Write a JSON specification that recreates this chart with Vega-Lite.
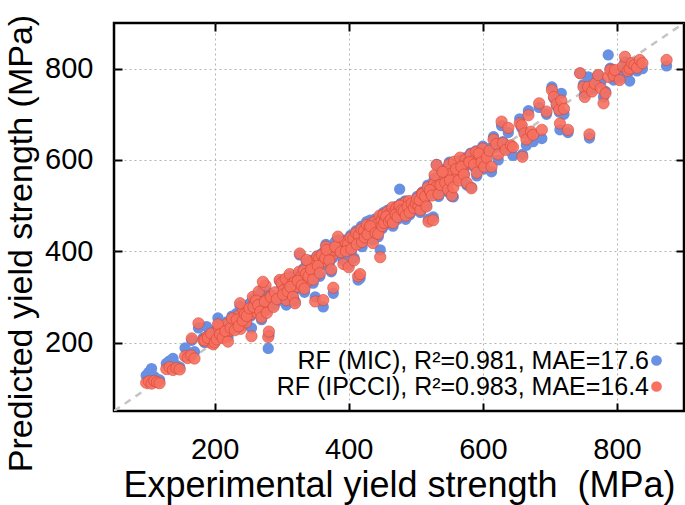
{
  "$schema": "https://vega.github.io/schema/vega-lite/v6.json",
  "width": 570,
  "height": 388,
  "autosize": "none",
  "padding": {"left": 114, "top": 23, "right": 1, "bottom": 94},
  "background": "white",
  "config": {
    "font": "Liberation Sans",
    "view": {"stroke": "#000", "strokeWidth": 2.5}
  },
  "datasets": {
    "diag": [{"exp": 50, "pred": 50}, {"exp": 900, "pred": 900}],
    "pts": [
      {"exp":98,"mic":128,"ipcci":112},{"exp":102,"mic":135,"ipcci":115},{"exp":106,"mic":143,"ipcci":110},{"exp":110,"mic":125,"ipcci":116},{"exp":114,"mic":120,"ipcci":113},{"exp":118,"mic":118,"ipcci":111},
      {"exp":128,"mic":154,"ipcci":142},{"exp":133,"mic":160,"ipcci":146},{"exp":138,"mic":165,"ipcci":140},{"exp":143,"mic":150,"ipcci":144},{"exp":148,"mic":146,"ipcci":141},
      {"exp":156,"mic":188,"ipcci":170},{"exp":160,"mic":176,"ipcci":166},{"exp":165,"mic":172,"ipcci":172},{"exp":170,"mic":180,"ipcci":165},{"exp":166,"mic":205,"ipcci":209},
      {"exp":176,"mic":232,"ipcci":242},{"exp":183,"mic":210,"ipcci":205},{"exp":188,"mic":235,"ipcci":212},{"exp":193,"mic":222,"ipcci":200},{"exp":198,"mic":210,"ipcci":196},
      {"exp":185,"mic":200,"ipcci":205},{"exp":190,"mic":215,"ipcci":210},{"exp":195,"mic":225,"ipcci":220},{"exp":200,"mic":205,"ipcci":200},{"exp":206,"mic":238,"ipcci":232},{"exp":210,"mic":225,"ipcci":222},
      {"exp":214,"mic":215,"ipcci":212},{"exp":218,"mic":245,"ipcci":240},{"exp":222,"mic":230,"ipcci":226},{"exp":228,"mic":240,"ipcci":236},{"exp":231,"mic":250,"ipcci":246},{"exp":235,"mic":262,"ipcci":258},
      {"exp":239,"mic":235,"ipcci":230},{"exp":243,"mic":268,"ipcci":272},{"exp":247,"mic":248,"ipcci":244},{"exp":250,"mic":275,"ipcci":270},{"exp":254,"mic":258,"ipcci":262},{"exp":257,"mic":295,"ipcci":300},
      {"exp":260,"mic":280,"ipcci":288},{"exp":263,"mic":270,"ipcci":266},{"exp":266,"mic":305,"ipcci":312},{"exp":269,"mic":290,"ipcci":286},{"exp":273,"mic":280,"ipcci":276},{"exp":276,"mic":315,"ipcci":325},
      {"exp":279,"mic":300,"ipcci":296},{"exp":283,"mic":290,"ipcci":300},
      {"exp":203,"mic":215,"ipcci":207},{"exp":205,"mic":254,"ipcci":240},{"exp":208,"mic":228,"ipcci":218},{"exp":212,"mic":220,"ipcci":210},{"exp":216,"mic":236,"ipcci":225},{"exp":220,"mic":212,"ipcci":202},
      {"exp":224,"mic":245,"ipcci":232},{"exp":226,"mic":258,"ipcci":253},{"exp":230,"mic":232,"ipcci":227},{"exp":233,"mic":264,"ipcci":250},{"exp":238,"mic":280,"ipcci":286},{"exp":236,"mic":240,"ipcci":236},
      {"exp":242,"mic":255,"ipcci":248},{"exp":245,"mic":270,"ipcci":262},{"exp":248,"mic":262,"ipcci":258},{"exp":252,"mic":285,"ipcci":275},{"exp":255,"mic":232,"ipcci":214},{"exp":258,"mic":268,"ipcci":278},
      {"exp":262,"mic":300,"ipcci":292},{"exp":265,"mic":285,"ipcci":282},{"exp":268,"mic":262,"ipcci":268},{"exp":270,"mic":250,"ipcci":255},{"exp":272,"mic":318,"ipcci":333},{"exp":275,"mic":295,"ipcci":290},
      {"exp":278,"mic":272,"ipcci":265},{"exp":280,"mic":187,"ipcci":212},{"exp":281,"mic":216,"ipcci":224},{"exp":284,"mic":305,"ipcci":300},{"exp":288,"mic":282,"ipcci":278},{"exp":290,"mic":300,"ipcci":310},
      {"exp":293,"mic":290,"ipcci":295},{"exp":297,"mic":335,"ipcci":337},{"exp":300,"mic":325,"ipcci":330},{"exp":303,"mic":310,"ipcci":315},{"exp":307,"mic":282,"ipcci":293},{"exp":310,"mic":340,"ipcci":330},
      {"exp":302,"mic":300,"ipcci":305},{"exp":306,"mic":335,"ipcci":340},{"exp":309,"mic":318,"ipcci":312},{"exp":312,"mic":345,"ipcci":350},{"exp":316,"mic":325,"ipcci":330},{"exp":319,"mic":338,"ipcci":332},
      {"exp":323,"mic":318,"ipcci":322},{"exp":326,"mic":350,"ipcci":355},{"exp":329,"mic":340,"ipcci":345},{"exp":333,"mic":362,"ipcci":358},{"exp":336,"mic":345,"ipcci":350},{"exp":339,"mic":330,"ipcci":335},
      {"exp":343,"mic":380,"ipcci":375},{"exp":346,"mic":360,"ipcci":365},{"exp":349,"mic":372,"ipcci":378},{"exp":353,"mic":390,"ipcci":388},{"exp":356,"mic":380,"ipcci":385},{"exp":360,"mic":395,"ipcci":392},
      {"exp":363,"mic":370,"ipcci":378},{"exp":366,"mic":415,"ipcci":410},{"exp":370,"mic":390,"ipcci":398},{"exp":373,"mic":405,"ipcci":400},{"exp":376,"mic":385,"ipcci":392},{"exp":379,"mic":395,"ipcci":402},
      {"exp":383,"mic":410,"ipcci":405},{"exp":387,"mic":418,"ipcci":415},{"exp":391,"mic":400,"ipcci":408},{"exp":395,"mic":425,"ipcci":420},{"exp":399,"mic":410,"ipcci":415},{"exp":403,"mic":435,"ipcci":430},
      {"exp":407,"mic":420,"ipcci":428},{"exp":411,"mic":445,"ipcci":440},{"exp":415,"mic":430,"ipcci":435},{"exp":419,"mic":455,"ipcci":448},{"exp":423,"mic":440,"ipcci":445},{"exp":427,"mic":465,"ipcci":458},
      {"exp":431,"mic":445,"ipcci":450},{"exp":435,"mic":458,"ipcci":462},{"exp":439,"mic":470,"ipcci":465},{"exp":443,"mic":455,"ipcci":460},{"exp":446,"mic":475,"ipcci":478},{"exp":449,"mic":462,"ipcci":468},
      {"exp":452,"mic":485,"ipcci":480},{"exp":455,"mic":470,"ipcci":472},{"exp":458,"mic":490,"ipcci":486},{"exp":461,"mic":478,"ipcci":482},{"exp":465,"mic":492,"ipcci":496},{"exp":468,"mic":482,"ipcci":486},
      {"exp":471,"mic":498,"ipcci":494},{"exp":475,"mic":488,"ipcci":492},{"exp":478,"mic":505,"ipcci":500},{"exp":481,"mic":478,"ipcci":485},{"exp":484,"mic":510,"ipcci":506},{"exp":487,"mic":492,"ipcci":498},
      {"exp":490,"mic":505,"ipcci":510},
      {"exp":313,"mic":318,"ipcci":322},{"exp":317,"mic":300,"ipcci":300},{"exp":320,"mic":290,"ipcci":286},{"exp":324,"mic":345,"ipcci":335},{"exp":327,"mic":392,"ipcci":395},{"exp":330,"mic":330,"ipcci":325},
      {"exp":334,"mic":310,"ipcci":318},{"exp":337,"mic":375,"ipcci":381},{"exp":340,"mic":355,"ipcci":345},{"exp":344,"mic":365,"ipcci":360},{"exp":347,"mic":330,"ipcci":338},{"exp":350,"mic":300,"ipcci":290},
      {"exp":354,"mic":372,"ipcci":368},{"exp":357,"mic":345,"ipcci":352},{"exp":362,"mic":278,"ipcci":293},{"exp":365,"mic":390,"ipcci":385},{"exp":367,"mic":400,"ipcci":403},{"exp":371,"mic":375,"ipcci":380},
      {"exp":374,"mic":355,"ipcci":360},{"exp":377,"mic":308,"ipcci":320},{"exp":380,"mic":421,"ipcci":410},{"exp":384,"mic":425,"ipcci":432},{"exp":388,"mic":395,"ipcci":398},{"exp":392,"mic":380,"ipcci":372},
      {"exp":396,"mic":405,"ipcci":400},{"exp":400,"mic":370,"ipcci":365},{"exp":404,"mic":395,"ipcci":405},{"exp":408,"mic":385,"ipcci":380},{"exp":412,"mic":420,"ipcci":415},{"exp":414,"mic":337,"ipcci":345},
      {"exp":417,"mic":341,"ipcci":350},{"exp":420,"mic":410,"ipcci":420},{"exp":424,"mic":440,"ipcci":430},{"exp":428,"mic":430,"ipcci":437},{"exp":432,"mic":468,"ipcci":455},{"exp":436,"mic":425,"ipcci":418},
      {"exp":440,"mic":445,"ipcci":440},{"exp":444,"mic":432,"ipcci":438},{"exp":447,"mic":403,"ipcci":387},{"exp":450,"mic":450,"ipcci":455},{"exp":453,"mic":470,"ipcci":462},{"exp":456,"mic":487,"ipcci":476},
      {"exp":460,"mic":460,"ipcci":465},{"exp":463,"mic":478,"ipcci":470},{"exp":466,"mic":455,"ipcci":462},{"exp":470,"mic":490,"ipcci":480},{"exp":473,"mic":470,"ipcci":475},{"exp":476,"mic":536,"ipcci":500},
      {"exp":479,"mic":485,"ipcci":490},{"exp":482,"mic":495,"ipcci":488},{"exp":485,"mic":470,"ipcci":478},{"exp":488,"mic":505,"ipcci":498},{"exp":491,"mic":480,"ipcci":485},{"exp":494,"mic":500,"ipcci":505},
      {"exp":497,"mic":490,"ipcci":495},{"exp":500,"mic":510,"ipcci":505},{"exp":504,"mic":495,"ipcci":500},{"exp":507,"mic":485,"ipcci":490},{"exp":509,"mic":520,"ipcci":527},{"exp":512,"mic":505,"ipcci":510},
      {"exp":502,"mic":520,"ipcci":515},{"exp":506,"mic":505,"ipcci":512},{"exp":510,"mic":530,"ipcci":525},{"exp":514,"mic":515,"ipcci":520},{"exp":518,"mic":545,"ipcci":540},{"exp":522,"mic":525,"ipcci":530},
      {"exp":527,"mic":555,"ipcci":548},{"exp":530,"mic":535,"ipcci":540},{"exp":535,"mic":565,"ipcci":560},{"exp":539,"mic":540,"ipcci":545},{"exp":543,"mic":580,"ipcci":575},{"exp":547,"mic":560,"ipcci":565},
      {"exp":550,"mic":595,"ipcci":590},{"exp":553,"mic":575,"ipcci":570},{"exp":557,"mic":590,"ipcci":596},{"exp":562,"mic":560,"ipcci":565},{"exp":566,"mic":600,"ipcci":605},{"exp":570,"mic":585,"ipcci":580},
      {"exp":574,"mic":605,"ipcci":600},{"exp":578,"mic":590,"ipcci":595},{"exp":582,"mic":615,"ipcci":612},{"exp":586,"mic":600,"ipcci":598},{"exp":590,"mic":620,"ipcci":618},{"exp":596,"mic":612,"ipcci":608},
      {"exp":600,"mic":630,"ipcci":625},{"exp":604,"mic":605,"ipcci":610},
      {"exp":516,"mic":500,"ipcci":498},{"exp":519,"mic":470,"ipcci":465},{"exp":521,"mic":540,"ipcci":534},{"exp":524,"mic":530,"ipcci":522},{"exp":526,"mic":475,"ipcci":468},{"exp":528,"mic":560,"ipcci":567},
      {"exp":531,"mic":590,"ipcci":589},{"exp":534,"mic":520,"ipcci":525},{"exp":537,"mic":550,"ipcci":545},{"exp":540,"mic":570,"ipcci":574},{"exp":544,"mic":545,"ipcci":550},{"exp":548,"mic":530,"ipcci":535},
      {"exp":551,"mic":560,"ipcci":555},{"exp":554,"mic":520,"ipcci":522},{"exp":556,"mic":519,"ipcci":540},{"exp":560,"mic":575,"ipcci":580},{"exp":564,"mic":560,"ipcci":555},{"exp":568,"mic":590,"ipcci":585},
      {"exp":572,"mic":570,"ipcci":568},{"exp":576,"mic":545,"ipcci":550},{"exp":580,"mic":600,"ipcci":595},{"exp":583,"mic":540,"ipcci":538},{"exp":587,"mic":585,"ipcci":590},{"exp":591,"mic":565,"ipcci":572},
      {"exp":594,"mic":615,"ipcci":614},{"exp":598,"mic":600,"ipcci":595},{"exp":602,"mic":580,"ipcci":585},{"exp":606,"mic":610,"ipcci":605},{"exp":610,"mic":625,"ipcci":620},{"exp":613,"mic":574,"ipcci":585},
      {"exp":616,"mic":651,"ipcci":645},{"exp":620,"mic":628,"ipcci":635},{"exp":623,"mic":600,"ipcci":612},{"exp":628,"mic":675,"ipcci":684},{"exp":630,"mic":640,"ipcci":637},{"exp":634,"mic":625,"ipcci":622},
      {"exp":638,"mic":660,"ipcci":670},{"exp":642,"mic":630,"ipcci":632},{"exp":645,"mic":610,"ipcci":628},{"exp":655,"mic":690,"ipcci":680},{"exp":658,"mic":670,"ipcci":676},{"exp":659,"mic":612,"ipcci":607},
      {"exp":662,"mic":660,"ipcci":658},{"exp":665,"mic":632,"ipcci":645},{"exp":668,"mic":708,"ipcci":698},{"exp":672,"mic":655,"ipcci":662},{"exp":675,"mic":640,"ipcci":655},{"exp":684,"mic":715,"ipcci":724},
      {"exp":688,"mic":647,"ipcci":666},{"exp":695,"mic":700,"ipcci":706},{"exp":703,"mic":760,"ipcci":753},{"exp":706,"mic":735,"ipcci":738},{"exp":710,"mic":718,"ipcci":722},{"exp":714,"mic":705,"ipcci":710},
      {"exp":717,"mic":746,"ipcci":730},{"exp":715,"mic":666,"ipcci":680},{"exp":721,"mic":700,"ipcci":712},{"exp":727,"mic":660,"ipcci":666},
      {"exp":745,"mic":790,"ipcci":790},{"exp":750,"mic":765,"ipcci":760},{"exp":752,"mic":745,"ipcci":738},{"exp":757,"mic":782,"ipcci":760},{"exp":759,"mic":648,"ipcci":656},{"exp":763,"mic":755,"ipcci":750},
      {"exp":767,"mic":775,"ipcci":767},{"exp":772,"mic":786,"ipcci":786},{"exp":776,"mic":770,"ipcci":757},{"exp":780,"mic":738,"ipcci":724},{"exp":783,"mic":750,"ipcci":746},{"exp":787,"mic":830,"ipcci":782},
      {"exp":790,"mic":801,"ipcci":797},{"exp":795,"mic":775,"ipcci":785},{"exp":797,"mic":790,"ipcci":797},{"exp":804,"mic":780,"ipcci":775},{"exp":809,"mic":800,"ipcci":805},{"exp":812,"mic":815,"ipcci":826},
      {"exp":816,"mic":790,"ipcci":795},{"exp":819,"mic":773,"ipcci":800},{"exp":822,"mic":805,"ipcci":812},{"exp":826,"mic":800,"ipcci":808},{"exp":830,"mic":795,"ipcci":802},{"exp":834,"mic":810,"ipcci":819},
      {"exp":838,"mic":800,"ipcci":812},{"exp":874,"mic":806,"ipcci":819}
    ]
  },
  "layer": [
    {
      "data": {"name": "diag"},
      "mark": {"type": "line", "stroke": "#c4c4c4", "strokeWidth": 2.5, "strokeDash": [7, 6], "clip": true},
      "encoding": {
        "x": {"field": "exp", "type": "quantitative", "scale": {"domain": [50, 900], "nice": false, "zero": false},
              "axis": {"orient": "top", "values": [200, 400, 600, 800], "labels": false, "ticks": true, "tickSize": -8, "tickWidth": 2, "tickColor": "#000", "domain": false, "grid": false, "title": null}},
        "y": {"field": "pred", "type": "quantitative", "scale": {"domain": [50, 900], "nice": false, "zero": false},
              "axis": {"orient": "right", "values": [200, 400, 600, 800], "labels": false, "ticks": true, "tickSize": -8, "tickWidth": 2, "tickColor": "#000", "domain": false, "grid": false, "title": null}}
      }
    },
    {
      "data": {"name": "pts"},
      "mark": {"type": "point", "filled": true, "shape": "circle", "size": 128, "opacity": 1},
      "encoding": {
        "x": {"field": "exp", "type": "quantitative",
              "axis": {"orient": "bottom", "values": [200, 400, 600, 800], "grid": true, "gridColor": "#b4b4b4", "gridDash": [2, 3], "gridWidth": 1,
                       "ticks": true, "tickSize": -8, "tickWidth": 2, "tickColor": "#000", "domain": false,
                       "labelFontSize": 29, "labelColor": "#000", "labelPadding": 32,
                       "title": "Experimental yield strength\u00a0 (MPa)", "titleFontSize": 36, "titleFontWeight": "normal", "titleColor": "#000",
                       "titleBaseline": "alphabetic", "titleY": 85, "titleX": 285}},
        "y": {"field": "mic", "type": "quantitative",
              "axis": {"orient": "left", "values": [200, 400, 600, 800], "grid": true, "gridColor": "#b4b4b4", "gridDash": [2, 3], "gridWidth": 1,
                       "ticks": true, "tickSize": -8, "tickWidth": 2, "tickColor": "#000", "domain": false,
                       "labelFontSize": 29, "labelColor": "#000", "labelPadding": 29,
                       "title": "Predicted yield strength (MPa)", "titleFontSize": 34, "titleFontWeight": "normal", "titleColor": "#000",
                       "titleAngle": 270, "titleBaseline": "alphabetic", "titleAlign": "center", "titleX": -83, "titleY": 220}},
        "color": {"datum": "RF (MIC), R²=0.981, MAE=17.6", "type": "nominal",
                  "scale": {"domain": ["RF (MIC), R²=0.981, MAE=17.6", "RF (IPCCI), R²=0.983, MAE=16.4"], "range": ["#6890e3", "#f8705f"]},
                  "legend": {"orient": "none", "legendX": 530, "legendY": 325, "title": null, "labelAlign": "right", "labelOffset": -20,
                             "labelFontSize": 25, "labelColor": "#000", "labelLimit": 0, "symbolType": "circle", "symbolSize": 115,
                             "symbolStrokeWidth": 0, "rowPadding": 0, "padding": 0}}
      }
    },
    {
      "data": {"name": "pts"},
      "mark": {"type": "point", "filled": true, "shape": "circle", "size": 128, "opacity": 0.9, "stroke": "#d4473a", "strokeWidth": 0.7},
      "encoding": {
        "x": {"field": "exp", "type": "quantitative", "axis": null},
        "y": {"field": "ipcci", "type": "quantitative", "axis": null},
        "color": {"datum": "RF (IPCCI), R²=0.983, MAE=16.4", "type": "nominal"}
      }
    }
  ],
  "resolve": {"axis": {"x": "independent", "y": "independent"}}
}
